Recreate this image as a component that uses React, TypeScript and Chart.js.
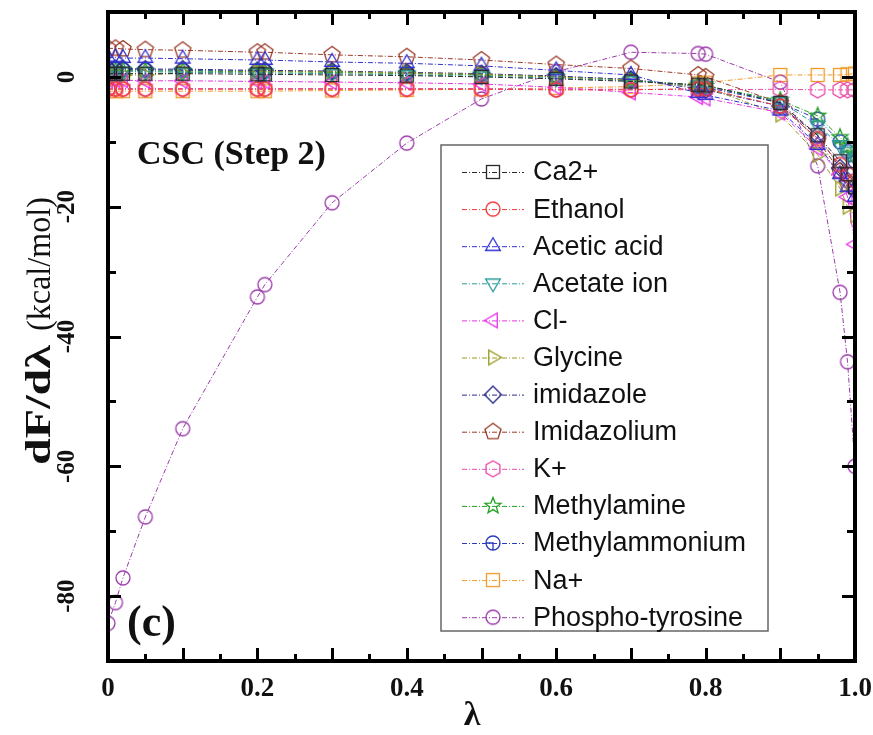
import React, { useEffect, useRef } from 'react';
import { Chart, registerables } from 'chart.js';

Chart.register(...registerables);

// ---------- data ----------
const lambdas = [0, 0.01, 0.02, 0.05, 0.1, 0.2, 0.21, 0.3, 0.4, 0.5, 0.6, 0.7, 0.79, 0.8, 0.9, 0.95, 0.98, 0.99, 1.0];

const ca2 = [0.5, 0.5, 0.5, 0.5, 0.5, 0.4, 0.4, 0.3, 0.2, 0.0, -0.3, -0.7, -1.2, -1.3, -4.0, -9.0, -13.0, -15.0, -17.0];
const ethanol = [-1.9, -1.9, -1.9, -1.9, -1.9, -1.9, -1.9, -1.9, -1.9, -1.9, -2.0, -2.0, -1.8, -1.8, -4.5, -9.5, -13.5, -15.0, -16.0];
const aceticAcid = [3.0, 3.0, 2.9, 2.9, 2.8, 2.6, 2.6, 2.3, 2.1, 1.7, 1.0, 0.3, -2.5, -2.8, -5.2, -10.5, -15.0, -17.0, -18.5];
const acetateIon = [0.8, 0.8, 0.8, 0.8, 0.7, 0.6, 0.6, 0.5, 0.3, 0.1, -0.2, -0.6, -1.3, -1.4, -3.8, -7.5, -10.5, -11.5, -12.5];
const chloride = [-0.5, -0.5, -0.5, -0.6, -0.6, -0.7, -0.7, -0.8, -0.9, -1.1, -1.6, -2.4, -3.1, -3.3, -5.5, -11.0, -15.0, -18.5, -25.8];
const glycine = [0.2, 0.2, 0.3, 0.3, 0.6, 0.8, 0.8, 0.8, 0.6, 0.4, 0.0, -0.5, -1.5, -1.6, -5.8, -12.0, -17.2, -20.0, -21.3];
const imidazole = [1.3, 1.3, 1.3, 1.2, 1.2, 1.0, 1.0, 0.9, 0.7, 0.5, 0.1, -0.4, -1.8, -2.0, -4.5, -9.0, -14.0, -16.0, -17.5];
const imidazolium = [4.4, 4.4, 4.3, 4.2, 4.1, 3.8, 3.8, 3.4, 3.1, 2.6, 1.9, 1.3, 0.3, 0.0, -4.0, -9.8, -14.5, -16.5, -17.0];
const potassium = [-1.8, -1.8, -1.8, -1.8, -1.8, -1.8, -1.8, -1.8, -1.8, -1.8, -1.9, -1.9, -2.0, -2.0, -1.9, -2.0, -2.0, -2.0, -2.0];
const methylamine = [1.0, 1.0, 1.0, 0.9, 0.9, 0.8, 0.8, 0.7, 0.5, 0.3, 0.0, -0.5, -1.3, -1.4, -3.6, -6.0, -9.3, -10.7, -12.0];
const methylammonium = [1.2, 1.2, 1.1, 1.1, 1.0, 0.9, 0.9, 0.8, 0.6, 0.4, 0.1, -0.4, -1.5, -1.6, -4.0, -6.5, -10.0, -11.5, -13.0];
const sodium = [-2.2, -2.2, -2.2, -2.2, -2.2, -2.2, -2.2, -2.1, -2.0, -1.9, -1.7, -1.5, -1.0, -0.9, 0.3, 0.3, 0.3, 0.4, 0.5];
const phosphoTyrosine = [-84.2, -81.0, -77.2, -67.8, -54.2, -33.9, -32.0, -19.4, -10.2, -3.4, 0.8, 3.8, 3.6, 3.5, -0.8, -13.7, -33.2, -43.9, -60.0];

const seriesNames = ['Ca2+', 'Ethanol', 'Acetic acid', 'Acetate ion', 'Cl-', 'Glycine', 'imidazole', 'Imidazolium', 'K+', 'Methylamine', 'Methylammonium', 'Na+', 'Phospho-tyrosine'];
const seriesValues = [ca2, ethanol, aceticAcid, acetateIon, chloride, glycine, imidazole, imidazolium, potassium, methylamine, methylammonium, sodium, phosphoTyrosine];
const seriesColors = ['#2a2a2a', '#ee3a3a', '#3030d0', '#2a9a9a', '#e830e8', '#9a9a20', '#28288a', '#9a3a28', '#e84aa8', '#20a020', '#2a3abb', '#f09a28', '#9a3aaa'];
const seriesShapes = ['square', 'circle', 'triUp', 'triDown', 'triLeft', 'triRight', 'diamond', 'pentagon', 'hexagon', 'star', 'circleMark', 'square', 'circle'];

const xTickValues = [0, 0.2, 0.4, 0.6, 0.8, 1.0];
const xTickLabels = ['0', '0.2', '0.4', '0.6', '0.8', '1.0'];
const yTickValues = [-80, -60, -40, -20, 0];
const yTickLabels = ['-80', '-60', '-40', '-20', '0'];
const xMarkValues = [0.05, 0.1, 0.15, 0.2, 0.25, 0.3, 0.35, 0.4, 0.45, 0.5, 0.55, 0.6, 0.65, 0.7, 0.75, 0.8, 0.85, 0.9, 0.95];
const xMarkMajor = [0.1, 0.2, 0.3, 0.4, 0.5, 0.6, 0.7, 0.8, 0.9];
const yMarkValues = [0, -10, -20, -30, -40, -50, -60, -70, -80];
const yMarkMajor = [0, -20, -40, -60, -80];

// ---------- markers ----------
function makeMarker(shape: string, color: string): HTMLCanvasElement {
  const s = 22;
  const c = document.createElement('canvas');
  c.width = s;
  c.height = s;
  const g = c.getContext('2d')!;
  g.strokeStyle = color;
  g.lineWidth = 1.3;
  const cx = s / 2, cy = s / 2;
  const poly = (n: number, r: number, start: number) => {
    g.beginPath();
    for (let k = 0; k < n; k++) {
      const a = start + (2 * Math.PI * k) / n;
      const px = cx + r * Math.cos(a), py = cy + r * Math.sin(a);
      if (k === 0) g.moveTo(px, py); else g.lineTo(px, py);
    }
    g.closePath();
    g.stroke();
  };
  switch (shape) {
    case 'square':
      g.strokeRect(cx - 6.5, cy - 6.5, 13, 13);
      break;
    case 'circle':
      g.beginPath(); g.arc(cx, cy, 7, 0, Math.PI * 2); g.stroke();
      break;
    case 'circleMark':
      g.beginPath(); g.arc(cx, cy, 7, 0, Math.PI * 2); g.stroke();
      g.beginPath(); g.moveTo(cx - 7, cy); g.lineTo(cx, cy); g.lineTo(cx, cy + 7); g.stroke();
      break;
    case 'triUp': poly(3, 8.5, -Math.PI / 2); break;
    case 'triDown': poly(3, 8.5, Math.PI / 2); break;
    case 'triLeft': poly(3, 8.5, Math.PI); break;
    case 'triRight': poly(3, 8.5, 0); break;
    case 'diamond': poly(4, 8.5, -Math.PI / 2); break;
    case 'pentagon': poly(5, 8.5, -Math.PI / 2); break;
    case 'hexagon': poly(6, 8, -Math.PI / 2); break;
    case 'star': {
      g.beginPath();
      for (let k = 0; k < 10; k++) {
        const r = k % 2 === 0 ? 8.5 : 3.6;
        const a = -Math.PI / 2 + (Math.PI * k) / 5;
        const px = cx + r * Math.cos(a), py = cy + r * Math.sin(a);
        if (k === 0) g.moveTo(px, py); else g.lineTo(px, py);
      }
      g.closePath();
      g.stroke();
      break;
    }
  }
  return c;
}

const SERIF = "'Liberation Serif', 'Times New Roman', serif";
const SANS = "'Liberation Sans', Arial, sans-serif";
const DASH = [5, 2, 1, 2];

const near = (a: number, list: number[]) => list.some((v) => Math.abs(v - a) < 1e-9);

const zeroPad = (s: any) => {
  s.paddingLeft = 0;
  s.paddingRight = 0;
  s.paddingTop = 0;
  s.paddingBottom = 0;
};

// draw text (in the current rotated frame) stretched to fill a given span
function fitText(ctx: any, text: string, font: string, from: number, span: number) {
  ctx.font = font;
  const w = ctx.measureText(text).width;
  ctx.save();
  ctx.translate(from, 0);
  ctx.scale(span / w, 1);
  ctx.fillText(text, 0, 0);
  ctx.restore();
}

const decorPlugin = {
  id: 'decor',
  afterDraw(chart: any) {
    const { ctx, chartArea: a } = chart;
    const xs = chart.scales.x;
    const ys = chart.scales.y;
    ctx.save();
    // inward tick marks
    ctx.strokeStyle = '#000';
    ctx.lineWidth = 3;
    ctx.lineCap = 'butt';
    ctx.beginPath();
    xMarkValues.forEach((v) => {
      const px = Math.round(xs.getPixelForValue(v)) + 0.5;
      const len = near(v, xMarkMajor) ? 13 : 7;
      ctx.moveTo(px, a.bottom); ctx.lineTo(px, a.bottom - len);
      ctx.moveTo(px, a.top); ctx.lineTo(px, a.top + len);
    });
    yMarkValues.forEach((v) => {
      const py = Math.round(ys.getPixelForValue(v)) + 0.5;
      const len = near(v, yMarkMajor) ? 13 : 8;
      ctx.moveTo(a.left, py); ctx.lineTo(a.left + len, py);
      ctx.moveTo(a.right, py); ctx.lineTo(a.right - len, py);
    });
    ctx.stroke();
    // frame
    ctx.lineWidth = 4;
    ctx.strokeRect(a.left, a.top, a.right - a.left, a.bottom - a.top);

    // axis titles
    ctx.fillStyle = '#111';
    ctx.textBaseline = 'middle';
    ctx.textAlign = 'center';
    ctx.font = `bold 34px ${SERIF}`;
    ctx.fillText('λ', 472, 716);

    ctx.save();
    ctx.translate(50, 0);
    ctx.rotate(-Math.PI / 2);
    ctx.textBaseline = 'alphabetic';
    ctx.textAlign = 'left';
    fitText(ctx, 'dF/dλ', `bold 36px ${SERIF}`, -465, 120);
    fitText(ctx, '(kcal/mol)', `34px ${SERIF}`, -331, 134);
    ctx.restore();

    // annotations
    ctx.textAlign = 'left';
    ctx.textBaseline = 'middle';
    ctx.font = `bold 34px ${SERIF}`;
    ctx.fillText('CSC (Step 2)', 137, 155);
    ctx.font = `bold 44px ${SERIF}`;
    ctx.fillText('(c)', 127, 625);

    // legend
    const bx = 441, by = 145, bw = 327, bh = 486;
    ctx.fillStyle = '#fff';
    ctx.fillRect(bx, by, bw, bh);
    ctx.strokeStyle = '#666';
    ctx.lineWidth = 1.5;
    ctx.strokeRect(bx, by, bw, bh);
    ctx.font = `27px ${SANS}`;
    ctx.textBaseline = 'middle';
    chart.data.datasets.forEach((ds: any, i: number) => {
      const yy = 172 + i * 37.1;
      ctx.strokeStyle = ds.borderColor;
      ctx.lineWidth = 1;
      ctx.setLineDash(DASH);
      ctx.beginPath();
      ctx.moveTo(462, yy + 0.5);
      ctx.lineTo(524, yy + 0.5);
      ctx.stroke();
      ctx.setLineDash([]);
      const img = ds.pointStyle as HTMLCanvasElement;
      ctx.drawImage(img, 493 - img.width / 2, yy - img.height / 2);
      ctx.fillStyle = '#111';
      ctx.fillText(ds.label, 533, yy + 1);
    });
    ctx.restore();
  },
};

export default function App() {
  const ref = useRef<HTMLCanvasElement | null>(null);
  useEffect(() => {
    if (!ref.current) return;
    const datasets = seriesNames.map((name, i) => ({
      label: name,
      data: lambdas.map((l, j) => ({ x: l, y: seriesValues[i][j] })),
      showLine: true,
      borderColor: seriesColors[i],
      backgroundColor: 'transparent',
      borderWidth: 1,
      borderDash: DASH,
      pointStyle: makeMarker(seriesShapes[i], seriesColors[i]),
      pointRadius: 7,
      pointHoverRadius: 7,
      tension: 0,
      clip: 0,
    }));
    const chart = new Chart(ref.current, {
      type: 'scatter',
      data: { datasets },
      options: {
        animation: false,
        responsive: false,
        events: [],
        layout: { padding: { top: 12, right: 18, left: 0, bottom: 0 } },
        plugins: { legend: { display: false }, tooltip: { enabled: false } },
        scales: {
          x: {
            type: 'linear',
            min: 0,
            max: 1,
            afterFit: (s: any) => { s.height = 74; zeroPad(s); },
            afterBuildTicks: (s: any) => { s.ticks = xTickValues.map((v) => ({ value: v })); },
            grid: { display: false, drawTicks: false },
            border: { display: false },
            ticks: {
              autoSkip: false,
              maxRotation: 0,
              padding: 12,
              color: '#111',
              font: { family: SERIF, size: 27, weight: 'bold' },
              callback: (_v: any, i: number) => xTickLabels[i],
            },
          },
          y: {
            type: 'linear',
            min: -90,
            max: 10,
            afterFit: (s: any) => { s.width = 108; zeroPad(s); },
            afterBuildTicks: (s: any) => { s.ticks = yTickValues.map((v) => ({ value: v })); },
            grid: { display: false, drawTicks: false },
            border: { display: false },
            ticks: {
              autoSkip: false,
              minRotation: 90,
              maxRotation: 90,
              crossAlign: 'center',
              padding: 24,
              color: '#111',
              font: { family: SERIF, size: 25, weight: 'bold' },
              callback: (_v: any, i: number) => yTickLabels[i],
            },
          },
        },
      } as any,
      plugins: [decorPlugin],
    });
    return () => chart.destroy();
  }, []);
  return (
    <div style={{ position: 'absolute', left: 0, top: 0, width: 873, height: 735, background: '#fff' }}>
      <canvas ref={ref} width={873} height={735} style={{ width: 873, height: 735, display: 'block' }} />
    </div>
  );
}
